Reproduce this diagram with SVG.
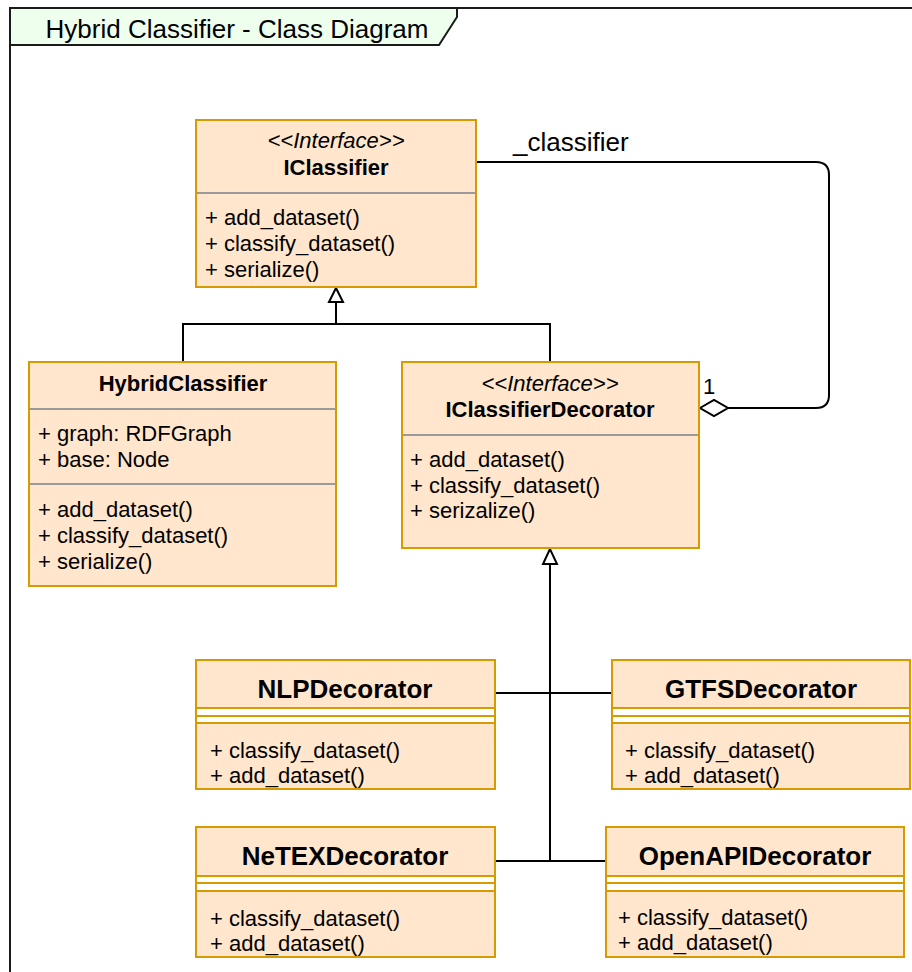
<svg xmlns="http://www.w3.org/2000/svg" width="912" height="972" viewBox="0 0 912 972">
  <style>
    text { font-family: "Liberation Sans", Arial, Helvetica, sans-serif; fill: #000; }
    .box { fill: #ffe6cc; stroke: #d79b00; stroke-width: 2; }
    .gap { fill: #ffffff; stroke: #d79b00; stroke-width: 2; }
    .div { stroke: #9a9a9a; stroke-width: 2; }
    .sep { stroke: #d79b00; stroke-width: 2; }
    .m { font-size: 22px; }
    .st { font-size: 22px; font-style: italic; text-anchor: middle; }
    .nm { font-size: 22px; font-weight: bold; text-anchor: middle; }
    .nmL { font-size: 26px; font-weight: bold; text-anchor: middle; }
    .edge { fill: none; stroke: #000; stroke-width: 2; }
    .head { fill: #fff; stroke: #000; stroke-width: 2; }
  </style>

  <!-- UML frame -->
  <g id="frame">
    <path d="M10 8 H912 M10 8 V972" fill="none" stroke="#1a1a1a" stroke-width="2"/>
    <path d="M10 8 H457 V17 L439 45 H10 Z" fill="#eeffee" stroke="#1a1a1a" stroke-width="2"/>
    <text x="237" y="38" font-size="26" text-anchor="middle">Hybrid Classifier - Class Diagram</text>
  </g>

  <!-- connectors -->
  <g id="connectors">
    <!-- generalisation to IClassifier -->
    <path class="edge" d="M183 362 V324 H550 V362"/>
    <path class="edge" d="M336 324 V302"/>
    <polygon class="head" points="336,288 329,302 343,302"/>
    <!-- aggregation _classifier -->
    <path class="edge" d="M476 162 H816 Q829 162 829 175 V395 Q829 408 816 408 H728"/>
    <polygon class="head" points="700,408 714,400 728,408 714,416"/>
    <text x="513" y="151" font-size="26">_classifier</text>
    <text x="703" y="394" font-size="22">1</text>
    <!-- generalisation to IClassifierDecorator -->
    <path class="edge" d="M550 564 V861" stroke-width="3"/>
    <path class="edge" d="M495 693 H612"/>
    <path class="edge" d="M495 861 H606"/>
    <polygon class="head" points="550,549 543,564 557,564"/>
  </g>

  <!-- IClassifier -->
  <g id="IClassifier">
    <rect class="box" x="196" y="120" width="280" height="167"/>
    <line class="div" x1="197" y1="193" x2="475" y2="193"/>
    <text class="st" x="336" y="148">&lt;&lt;Interface&gt;&gt;</text>
    <text class="nm" x="336" y="175">IClassifier</text>
    <text class="m" x="205" y="225">+ add_dataset()</text>
    <text class="m" x="205" y="251">+ classify_dataset()</text>
    <text class="m" x="205" y="277">+ serialize()</text>
  </g>

  <!-- HybridClassifier -->
  <g id="HybridClassifier">
    <rect class="box" x="29" y="362" width="307" height="224"/>
    <line class="div" x1="30" y1="409" x2="335" y2="409"/>
    <line class="div" x1="30" y1="484" x2="335" y2="484"/>
    <text class="nm" x="183" y="391">HybridClassifier</text>
    <text class="m" x="38" y="441">+ graph: RDFGraph</text>
    <text class="m" x="38" y="467">+ base: Node</text>
    <text class="m" x="38" y="517">+ add_dataset()</text>
    <text class="m" x="38" y="543">+ classify_dataset()</text>
    <text class="m" x="38" y="569">+ serialize()</text>
  </g>

  <!-- IClassifierDecorator -->
  <g id="IClassifierDecorator">
    <rect class="box" x="402" y="362" width="297" height="186"/>
    <line class="div" x1="403" y1="435" x2="698" y2="435"/>
    <text class="st" x="550" y="391">&lt;&lt;Interface&gt;&gt;</text>
    <text class="nm" x="550" y="417">IClassifierDecorator</text>
    <text class="m" x="410" y="467">+ add_dataset()</text>
    <text class="m" x="410" y="493">+ classify_dataset()</text>
    <text class="m" x="410" y="518">+ serizalize()</text>
  </g>

  <!-- NLPDecorator -->
  <g id="NLPDecorator">
    <rect class="box" x="196" y="660" width="299" height="129"/>
    <rect class="gap" x="196" y="708" width="299" height="15"/>
    <line class="sep" x1="196" y1="716" x2="495" y2="716"/>
    <text class="nmL" x="345" y="698">NLPDecorator</text>
    <text class="m" x="210" y="758">+ classify_dataset()</text>
    <text class="m" x="210" y="783">+ add_dataset()</text>
  </g>

  <!-- GTFSDecorator -->
  <g id="GTFSDecorator">
    <rect class="box" x="612" y="660" width="298" height="129"/>
    <rect class="gap" x="612" y="708" width="298" height="15"/>
    <line class="sep" x1="612" y1="716" x2="910" y2="716"/>
    <text class="nmL" x="761" y="698">GTFSDecorator</text>
    <text class="m" x="625" y="758">+ classify_dataset()</text>
    <text class="m" x="625" y="783">+ add_dataset()</text>
  </g>

  <!-- NeTEXDecorator -->
  <g id="NeTEXDecorator">
    <rect class="box" x="196" y="827" width="299" height="130"/>
    <rect class="gap" x="196" y="876" width="299" height="15"/>
    <line class="sep" x1="196" y1="883" x2="495" y2="883"/>
    <text class="nmL" x="345" y="865">NeTEXDecorator</text>
    <text class="m" x="210" y="926">+ classify_dataset()</text>
    <text class="m" x="210" y="951">+ add_dataset()</text>
  </g>

  <!-- OpenAPIDecorator -->
  <g id="OpenAPIDecorator">
    <rect class="box" x="606" y="827" width="298" height="130"/>
    <rect class="gap" x="606" y="876" width="298" height="15"/>
    <line class="sep" x1="606" y1="883" x2="904" y2="883"/>
    <text class="nmL" x="755" y="865">OpenAPIDecorator</text>
    <text class="m" x="618" y="925">+ classify_dataset()</text>
    <text class="m" x="618" y="950">+ add_dataset()</text>
  </g>
</svg>
